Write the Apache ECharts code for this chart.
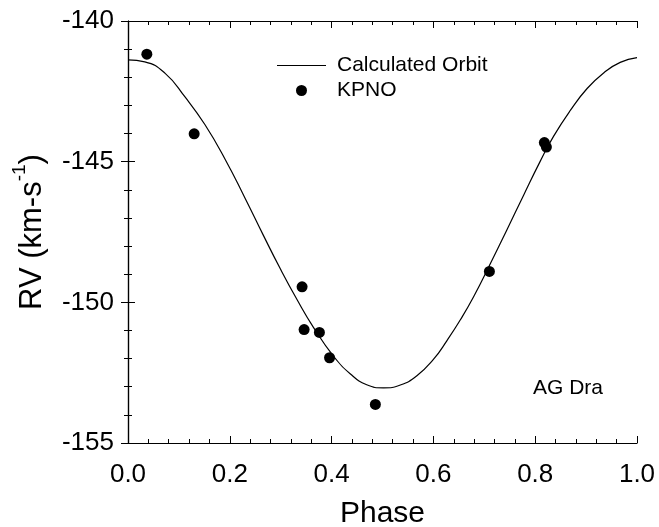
<!DOCTYPE html>
<html>
<head>
<meta charset="utf-8">
<script src="https://cdn.jsdelivr.net/npm/echarts@6/dist/echarts.min.js"></script>
<style>html,body{margin:0;padding:0;background:#fff;}#c{width:659px;height:527px;}</style>
</head>
<body>
<div id="c"></div>
<script>
// Calculated orbit curve
var curvePhase = [0.000, 0.033, 0.073, 0.112, 0.151, 0.191, 0.230, 0.266, 0.299, 0.332, 0.364, 0.404, 0.437, 0.469, 0.502, 0.535, 0.567, 0.600, 0.627, 0.653, 0.679, 0.712, 0.745, 0.777, 0.810, 0.836, 0.869, 0.902, 0.935, 0.967, 1.000];
var curveRV = [-141.38, -141.45, -141.86, -142.70, -143.68, -144.92, -146.30, -147.62, -148.80, -149.90, -150.88, -151.92, -152.55, -152.93, -153.04, -152.94, -152.62, -152.03, -151.35, -150.62, -149.80, -148.62, -147.40, -146.20, -144.98, -144.10, -143.18, -142.40, -141.84, -141.47, -141.30];
// KPNO observations
var kpnoPhase = [0.037, 0.130, 0.342, 0.346, 0.376, 0.396, 0.486, 0.710, 0.818, 0.822];
var kpnoRV = [-141.18, -144.01, -149.45, -150.97, -151.07, -151.97, -153.63, -148.90, -144.32, -144.48];
var xTicks = [0.0, 0.2, 0.4, 0.6, 0.8, 1.0];
var yTicks = [-155, -150, -145, -140];

var FONT = 'Liberation Sans, Arial, Helvetica, sans-serif';
function pairs(a, b) { return a.map(function (v, i) { return [v, b[i]]; }); }

var chart = echarts.init(document.getElementById('c'), null, { renderer: 'canvas' });
var axisLine = { show: true, lineStyle: { color: '#000', width: 1.2 } };
var tick = { show: true, inside: true, length: 7, lineStyle: { color: '#000', width: 1 } };
var minor = { show: true, splitNumber: 5, length: 4, lineStyle: { color: '#000', width: 1 } };

chart.setOption({
  backgroundColor: '#fff',
  animation: false,
  grid: { left: 128, right: 22, top: 21, bottom: 84, containLabel: false, outerBoundsMode: 'none' },
  legend: {
    orient: 'vertical', left: 277, top: 53, padding: 0, itemGap: 0,
    itemWidth: 49, itemHeight: 11, symbolKeepAspect: true,
    textStyle: { fontFamily: FONT, fontSize: 21, color: '#000', lineHeight: 25, padding: [0, 0, 0, 6] },
    data: [
      { name: 'Calculated Orbit', icon: 'path://M0,0h100v2.4h-100z', itemStyle: { color: '#000' } },
      { name: 'KPNO', icon: 'circle', itemStyle: { color: '#000' } }
    ]
  },
  xAxis: [{
    type: 'value', min: 0, max: 1, interval: 0.2, position: 'bottom',
    axisLine: axisLine, axisTick: tick, minorTick: minor, splitLine: { show: false },
    axisLabel: { fontFamily: FONT, fontSize: 26, color: '#000', margin: 19,
      formatter: function (v) { return v.toFixed(1); } },
    name: 'Phase', nameLocation: 'middle', nameGap: 56,
    nameTextStyle: { fontFamily: FONT, fontSize: 30, color: '#000' }
  }, {
    type: 'value', min: 0, max: 1, interval: 0.2, position: 'top',
    axisLine: axisLine, axisTick: tick, minorTick: minor, splitLine: { show: false },
    axisLabel: { show: false }
  }],
  yAxis: [{
    type: 'value', min: -155, max: -140, interval: 5, position: 'left',
    axisLine: axisLine, axisTick: tick, minorTick: minor, splitLine: { show: false },
    axisLabel: { fontFamily: FONT, fontSize: 26, color: '#000', margin: 14 },
    name: '{a|RV (km-s}{b|-1}{a|)}', nameLocation: 'middle', nameGap: 80, nameRotate: 90,
    nameTextStyle: { fontFamily: FONT, color: '#000',
      rich: {
        a: { fontFamily: FONT, fontSize: 31, color: '#000', lineHeight: 38, verticalAlign: 'bottom' },
        b: { fontFamily: FONT, fontSize: 19, color: '#000', lineHeight: 38, verticalAlign: 'top', padding: [0, 0, 14, 0] }
      } }
  }, {
    type: 'value', min: -155, max: -140, interval: 5, position: 'right',
    axisLine: axisLine, axisTick: tick, minorTick: minor, splitLine: { show: false },
    axisLabel: { show: false }
  }],
  graphic: [{
    type: 'text', left: 533, top: 378,
    style: { text: 'AG Dra', font: '21px ' + FONT, fill: '#000' }
  }],
  series: [{
    name: 'Calculated Orbit', type: 'line', xAxisIndex: 0, yAxisIndex: 0,
    data: pairs(curvePhase, curveRV), smooth: 0.5, symbol: 'none', showSymbol: false,
    lineStyle: { color: '#000', width: 1.2 }, itemStyle: { color: '#000' }
  }, {
    name: 'KPNO', type: 'scatter', xAxisIndex: 0, yAxisIndex: 0,
    data: pairs(kpnoPhase, kpnoRV), symbol: 'circle', symbolSize: 11,
    itemStyle: { color: '#000', opacity: 1 }
  }]
});
</script>
</body>
</html>
